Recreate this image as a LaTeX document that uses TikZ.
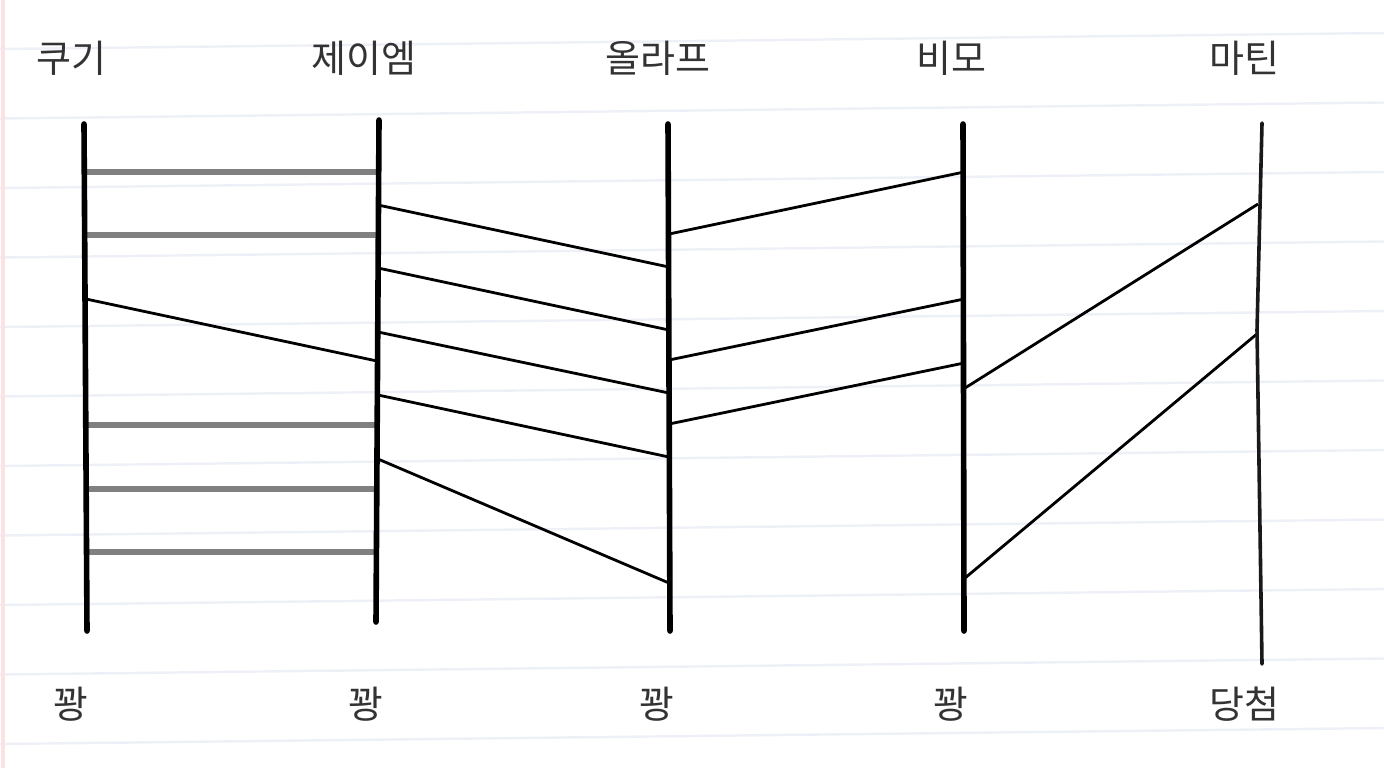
\documentclass[tikz,border=0pt]{standalone}
\usepackage{fontspec}
\newfontfamily\kr{Noto Sans CJK KR}
\definecolor{paperline}{HTML}{EEF0F8}
\definecolor{margin}{HTML}{FBE3E3}
\definecolor{rung}{HTML}{808080}
\definecolor{labeltext}{HTML}{333333}
\tikzset{
  pole/.style={line width=2.8pt, black, line cap=round},
  thinpole/.style={line width=1.8pt, black!90, line cap=round},
  grayrung/.style={line width=2.6pt, rung},
  slant/.style={line width=1.4pt, black},
  lbl/.style={font=\kr\fontsize{19pt}{19pt}\selectfont, text=labeltext, inner sep=0pt, anchor=center},
}
\begin{document}
\begin{tikzpicture}[x=0.5pt,y=-0.5pt]
\useasboundingbox (0,0) rectangle (1384,768);
\fill[white] (0,0) rectangle (1384,768);
% notebook paper lines
\foreach \k in {0,...,10} {
  \draw[paperline, line width=1.2pt] (0,{49+69.5*\k}) -- (1384,{33+69.5*\k});
}
\draw[margin, line width=2pt] (3,0) -- (3,768);

% labels
\node[lbl] (n1) at (71,58) {쿠기};
\node[lbl] (n2) at (364,58) {제이엠};
\node[lbl] (n3) at (658,58) {올라프};
\node[lbl] (n4) at (951,58) {비모};
\node[lbl] (n5) at (1244,58) {마틴};
\node[lbl] (r1) at (71,704) {꽝};
\node[lbl] (r2) at (366,704) {꽝};
\node[lbl] (r3) at (657,704) {꽝};
\node[lbl] (r4) at (951,704) {꽝};
\node[lbl] (r5) at (1244,704) {당첨};

% pole ends
\coordinate (t1) at (84,124);  \coordinate (b1) at (87,631);
\coordinate (t2) at (379,120); \coordinate (b2) at (376,622);
\coordinate (t3) at (668,124); \coordinate (b3) at (670,631);
\coordinate (t4) at (963,124); \coordinate (b4) at (964,631);
\coordinate (t5) at (1262,123); \coordinate (m5) at (1257,330); \coordinate (b5) at (1262,664);

% rung end points
\coordinate (a1) at (86,172);  \coordinate (j1) at (377,172);
\coordinate (a2) at (86,235);  \coordinate (j2) at (377,235);
\coordinate (a4) at (86,425);  \coordinate (j4) at (377,425);
\coordinate (a5) at (86,489);  \coordinate (j5) at (377,489);
\coordinate (a6) at (86,552);  \coordinate (j6) at (377,552);
\coordinate (a3) at (86,299);  \coordinate (j3) at (377,361);

\coordinate (p1) at (378,205); \coordinate (q1) at (669,267);
\coordinate (p2) at (378,268); \coordinate (q2) at (669,330);
\coordinate (p3) at (378,332); \coordinate (q3) at (669,393);
\coordinate (p4) at (378,395); \coordinate (q4) at (669,457);
\coordinate (p5) at (378,459); \coordinate (q5) at (669,583);

\coordinate (o1) at (669,234); \coordinate (v1) at (964,172);
\coordinate (o2) at (669,360); \coordinate (v2) at (964,299);
\coordinate (o3) at (669,424); \coordinate (v3) at (964,363);

\coordinate (w1) at (965,388); \coordinate (x1) at (1258,204);
\coordinate (w2) at (965,578); \coordinate (x2) at (1258,333);

% rungs
\draw[grayrung] (a1) -- (j1);
\draw[grayrung] (a2) -- (j2);
\draw[grayrung] (a4) -- (j4);
\draw[grayrung] (a5) -- (j5);
\draw[grayrung] (a6) -- (j6);
\draw[slant] (a3) -- (j3);
\draw[slant] (p1) -- (q1);
\draw[slant] (p2) -- (q2);
\draw[slant] (p3) -- (q3);
\draw[slant] (p4) -- (q4);
\draw[slant] (p5) -- (q5);
\draw[slant] (o1) -- (v1);
\draw[slant] (o2) -- (v2);
\draw[slant] (o3) -- (v3);
\draw[slant] (w1) -- (x1);
\draw[slant] (w2) -- (x2);

% poles
\draw[pole] (t1) -- (b1);
\draw[pole] (t2) -- (b2);
\draw[pole] (t3) -- (b3);
\draw[pole] (t4) -- (b4);
\draw[thinpole] (t5) -- (m5) -- (b5);
\end{tikzpicture}
\end{document}
